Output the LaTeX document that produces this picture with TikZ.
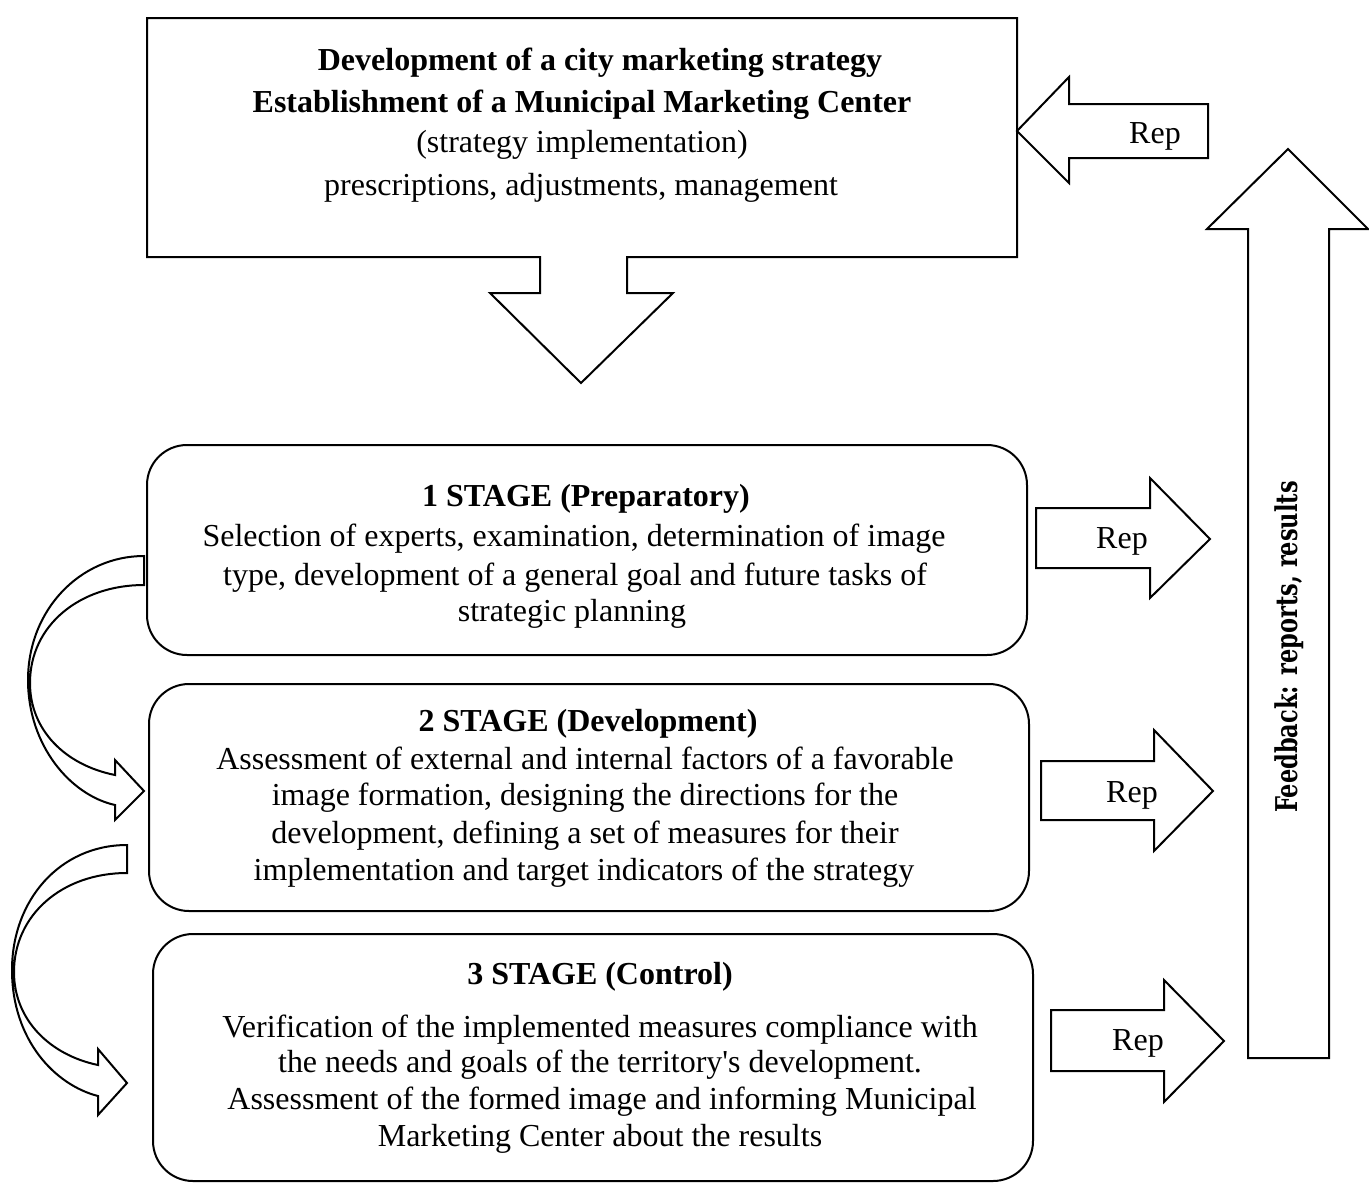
\documentclass[tikz,border=0pt]{standalone}
\usepackage{fontspec}
\setmainfont{Liberation Serif}
\newfontfamily\rawserif{Liberation Serif}
\newfontfamily\fbfont[FakeStretch=0.75]{DejaVu Serif}
\begin{document}
\begin{tikzpicture}[x=1pt,y=-1pt]
\tikzset{
  blockarrow/.style={draw, line width=2pt, fill=white, line join=miter},
  stagebox/.style={draw, line width=2pt, rounded corners=40pt, inner sep=0pt, minimum width=880pt},
  txt/.style={font=\fontsize{32}{37}\selectfont, anchor=base, inner sep=0pt},
  btxt/.style={txt, font=\fontsize{32}{37}\selectfont\bfseries},
}
\useasboundingbox (0,0) rectangle (1369,1184);

% top box with down arrow
\draw[blockarrow] (147,18) -- (1017,18) -- (1017,257) -- (627,257) -- (627,293) -- (673,293)
   -- (581,383) -- (490,293) -- (540,293) -- (540,257) -- (147,257) -- cycle;
\node[btxt] (h1) at (600,70) {Development of a city marketing strategy};
\node[btxt] (h2) at (582,112) {Establishment of a Municipal Marketing Center};
\node[txt] (h3) at (582,152) {(strategy implementation)};
\node[txt] (h4) at (581,195) {prescriptions, adjustments, management};

% top Rep arrow (pointing left)
\draw[blockarrow] (1017,131) -- (1069,77) -- (1069,104) -- (1208,104) -- (1208,158) -- (1069,158) -- (1069,183) -- cycle;
\node[txt] (r0) at (1155,143) {Rep};

% big feedback arrow
\draw[blockarrow] (1248,1058) -- (1248,229) -- (1207,229) -- (1288,149) -- (1368,229) -- (1329,229) -- (1329,1058) -- cycle;
\node[rotate=90, inner sep=0pt, font=\fbfont\bfseries\fontsize{30}{32}\selectfont] (fb) at (1289,647) {Feedback: reports, results};

% stage boxes
\node[stagebox, minimum height=210pt] (s1) at (587,550) {};
\node[stagebox, minimum height=227pt] (s2) at (589,797.5) {};
\node[stagebox, minimum height=247pt] (s3) at (593,1057.5) {};

\node[btxt] (t1a) at (586,506) {1 STAGE (Preparatory)};
\node[txt] (t1b) at (574,546) {Selection of experts, examination, determination of image};
\node[txt] (t1c) at (575,585) {type, development of a general goal and future tasks of};
\node[txt] (t1d) at (572,621) {strategic planning};

\node[btxt] (t2a) at (588,731) {2 STAGE (Development)};
\node[txt] (t2b) at (585,769) {Assessment of external and internal factors of a favorable};
\node[txt] (t2c) at (585,805) {image formation, designing the directions for the};
\node[txt] (t2d) at (585,843) {development, defining a set of measures for their};
\node[txt] (t2e) at (584,880) {implementation and target indicators of the strategy};

\node[btxt] (t3a) at (600,984) {3 STAGE (Control)};
\node[txt] (t3b) at (600,1037) {Verification of the implemented measures compliance with};
\node[txt] (t3c) at (600,1072) {the needs and goals of the territory{\rawserif'}s development.};
\node[txt] (t3d) at (602,1109) {Assessment of the formed image and informing Municipal};
\node[txt] (t3e) at (600,1146) {Marketing Center about the results};

% right Rep arrows
\draw[blockarrow] (1036,508) -- (1150,508) -- (1150,478) -- (1210,539) -- (1150,598) -- (1150,568) -- (1036,568) -- cycle;
\node[txt] (r1) at (1122,548) {Rep};
\draw[blockarrow] (1041,761) -- (1154,761) -- (1154,730) -- (1213,791) -- (1154,851) -- (1154,820) -- (1041,820) -- cycle;
\node[txt] (r2) at (1132,802) {Rep};
\draw[blockarrow] (1051,1010) -- (1164,1010) -- (1164,980) -- (1224,1041) -- (1164,1102) -- (1164,1071) -- (1051,1071) -- cycle;
\node[txt] (r3) at (1138,1050) {Rep};

% curved arrows on the left
\draw[blockarrow] (144,556) .. controls (80,556) and (28,610) .. (28,680)
   .. controls (28,745) and (70,795) .. (115,805) -- (115,820) -- (144,791) -- (115,760) -- (115,775)
   .. controls (65,765) and (30,730) .. (30,683)
   .. controls (30,625) and (80,585) .. (144,585) -- cycle;
\draw[blockarrow] (127,845) .. controls (60,845) and (12,900) .. (12,970)
   .. controls (12,1040) and (55,1085) .. (98,1096) -- (98,1115) -- (127,1083) -- (98,1049) -- (98,1065)
   .. controls (50,1055) and (14,1020) .. (14,972)
   .. controls (14,915) and (62,873) .. (127,873) -- cycle;
\end{tikzpicture}
\end{document}
